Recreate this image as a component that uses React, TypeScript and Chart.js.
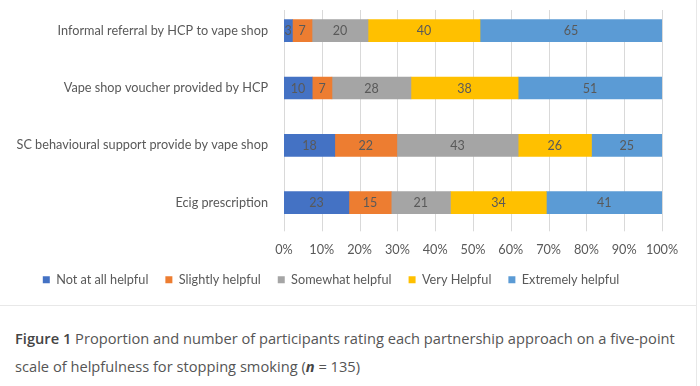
import React, { useEffect, useRef } from "react";
import { Chart, registerables } from "chart.js";

Chart.register(...registerables);

const categories = [
  "Informal referral by HCP to vape shop",
  "Vape shop voucher provided by HCP",
  "SC behavioural support provide by vape shop",
  "Ecig prescription",
];
const seriesNames = [
  "Not at all helpful",
  "Slightly helpful",
  "Somewhat helpful",
  "Very Helpful",
  "Extremely helpful",
];
const notAtAllHelpful = [3, 10, 18, 23];
const slightlyHelpful = [7, 7, 22, 15];
const somewhatHelpful = [20, 28, 43, 21];
const veryHelpful = [40, 38, 26, 34];
const extremelyHelpful = [65, 51, 25, 41];
const seriesColors = ["#4472C4", "#ED7D31", "#A5A5A5", "#FFC000", "#5B9BD5"];
const xTickValues = [0, 10, 20, 30, 40, 50, 60, 70, 80, 90, 100];

const seriesCounts = [notAtAllHelpful, slightlyHelpful, somewhatHelpful, veryHelpful, extremelyHelpful];
const totals = categories.map((_, i) => seriesCounts.reduce((s, arr) => s + arr[i], 0));

const FONT = "Lato";
const TEXT = "#595959";
const FS = 12.7;

const gridPlugin = {
  id: "customGrid",
  beforeDatasetsDraw(chart: any) {
    const { ctx, chartArea, scales } = chart;
    const x = scales.x;
    ctx.save();
    ctx.strokeStyle = "#D9D9D9";
    ctx.lineWidth = 1;
    x.ticks.forEach((t: any) => {
      const px = Math.round(x.getPixelForValue(t.value)) + 0.5;
      ctx.beginPath();
      ctx.moveTo(px, chartArea.top + 8);
      ctx.lineTo(px, chartArea.bottom);
      ctx.stroke();
    });
    ctx.restore();
  },
};

const labelPlugin = {
  id: "segLabels",
  afterDatasetsDraw(chart: any) {
    const ctx = chart.ctx;
    ctx.save();
    ctx.font = `12.5px ${FONT}`;
    ctx.fillStyle = TEXT;
    ctx.textAlign = "center";
    ctx.textBaseline = "middle";
    chart.data.datasets.forEach((ds: any, di: number) => {
      const meta = chart.getDatasetMeta(di);
      meta.data.forEach((el: any, i: number) => {
        const { x, y, base, height } = el.getProps(["x", "y", "base", "height"], true);
        const left = Math.min(x, base);
        const w = Math.abs(x - base);
        ctx.save();
        ctx.beginPath();
        ctx.rect(left, y - height / 2, w, height);
        ctx.clip();
        ctx.fillText(String(ds.counts[i]), left + w / 2, y + 0.5);
        ctx.restore();
      });
    });
    ctx.restore();
  },
};

function App() {
  const canvasRef = useRef<HTMLCanvasElement | null>(null);

  useEffect(() => {
    if (!canvasRef.current) return;
    const chart = new Chart(canvasRef.current, {
      type: "bar",
      data: {
        labels: categories,
        datasets: seriesNames.map((name, si) => ({
          label: name,
          data: seriesCounts[si].map((v, i) => (v / totals[i]) * 100),
          counts: seriesCounts[si],
          backgroundColor: seriesColors[si],
          borderWidth: 0,
          barThickness: 22,
        })) as any,
      },
      options: {
        indexAxis: "y",
        responsive: false,
        maintainAspectRatio: false,
        animation: false,
        layout: { padding: { top: 2, right: 38, left: 0, bottom: 0 } },
        scales: {
          x: {
            stacked: true,
            min: 0,
            max: 100,
            afterBuildTicks: (scale: any) => {
              scale.ticks = xTickValues.map((v) => ({ value: v }));
            },
            afterFit: (scale: any) => {
              scale.height = 25;
            },
            grid: { display: false, drawTicks: false },
            border: { display: false },
            ticks: {
              padding: 11,
              color: TEXT,
              font: { family: FONT, size: FS },
              maxRotation: 0,
              minRotation: 0,
              autoSkip: false,
              callback: (v: any) => `${v}%`,
            },
          },
          y: {
            stacked: true,
            afterFit: (scale: any) => {
              scale.width = 284;
              scale.paddingTop = 0;
              scale.paddingBottom = 0;
            },
            grid: { display: false, drawTicks: false },
            border: { display: false },
            ticks: {
              padding: 16,
              color: TEXT,
              font: { family: FONT, size: FS },
            },
          },
        },
        plugins: {
          legend: {
            position: "bottom",
            labels: {
              boxWidth: 7,
              boxHeight: 7,
              padding: 17,
              color: TEXT,
              font: { family: FONT, size: FS },
            },
          },
          tooltip: { enabled: false },
        },
      },
      plugins: [gridPlugin, labelPlugin],
    });
    return () => chart.destroy();
  }, []);

  const captionStyle: React.CSSProperties = {
    position: "absolute",
    left: 15,
    fontSize: 15,
    lineHeight: "20px",
    color: "#555555",
    fontFamily: "'Open Sans', sans-serif",
    whiteSpace: "nowrap",
    transform: "scaleX(0.977)",
    transformOrigin: "left center",
  };

  return (
    <div
      style={{
        position: "absolute",
        left: 0,
        top: 0,
        width: 700,
        height: 386,
        background: "#ffffff",
        overflow: "hidden",
      }}
    >
      <canvas ref={canvasRef} width={700} height={296} style={{ position: "absolute", left: 0, top: 0 }} />
      <div style={{ position: "absolute", left: 0, top: 305, width: 696, height: 1, background: "#E8E8E8" }} />
      <div style={{ position: "absolute", left: 696, top: 0, width: 1, height: 386, background: "#E8E8E8" }} />
      <div style={{ ...captionStyle, top: 328 }}>
        <b style={{ color: "#444444", fontWeight: 600 }}>Figure 1</b> Proportion and number of participants rating each
        partnership approach on a five-point
      </div>
      <div style={{ ...captionStyle, top: 356 }}>
        scale of helpfulness for stopping smoking (<b style={{ fontStyle: "italic", color: "#444444" }}>n</b> = 135)
      </div>
    </div>
  );
}

export default App;
